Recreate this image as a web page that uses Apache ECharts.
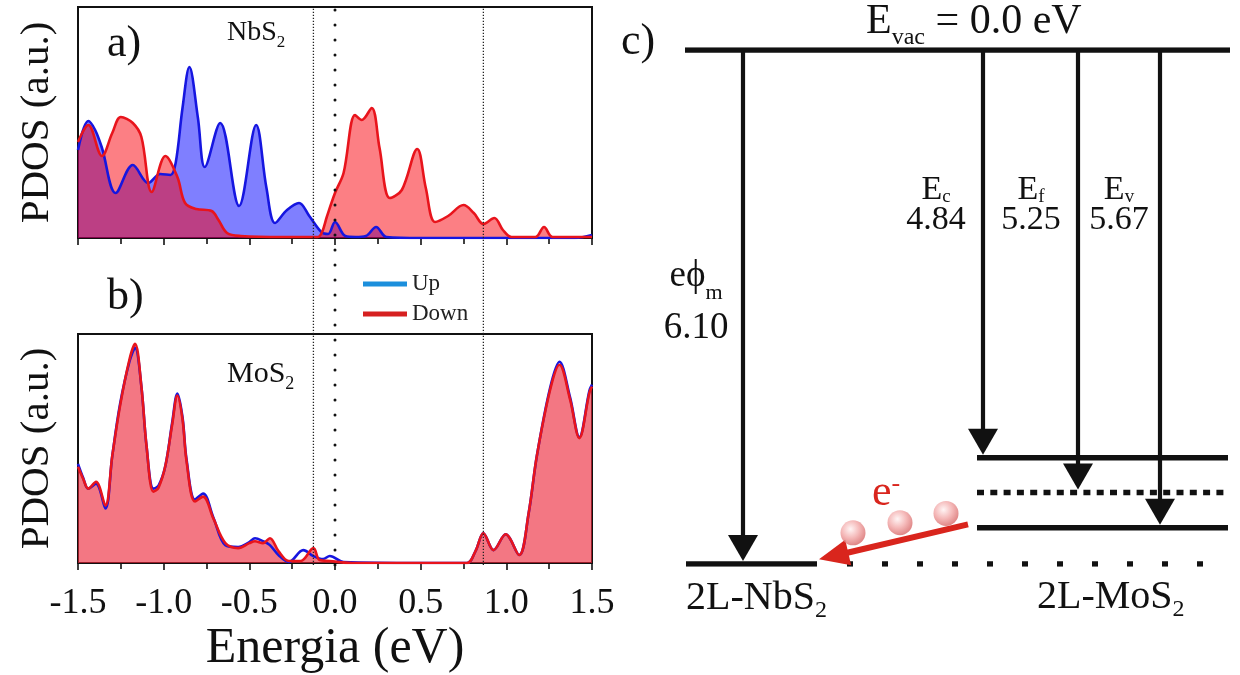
<!DOCTYPE html>
<html><head><meta charset="utf-8">
<script src="https://cdn.jsdelivr.net/npm/echarts@6/dist/echarts.min.js"></script>
<style>html,body{margin:0;padding:0;background:#fff}#c{width:1240px;height:675px}</style>
</head><body><div id="c"></div>
<script>
// ---------------- DATA ----------------
const energyTicks = [-1.5, -1.0, -0.5, 0.0, 0.5, 1.0, 1.5];
const tickLabels  = ['-1.5', '-1.0', '-0.5', '0.0', '0.5', '1.0', '1.5'];
const refLines    = [-0.126, 0.0, 0.866];   // dotted guide energies (eV)

// a) NbS2 spin-up
const aUpE = [-1.50,-1.44,-1.40,-1.36,-1.28,-1.18,-1.09,-1.02,-0.96,-0.93,-0.89,-0.85,-0.80,-0.76,-0.67,-0.56,-0.46,-0.40,-0.35,-0.28,-0.21,-0.15,-0.08,-0.04,0.00,0.06,0.12,0.18,0.24,0.30,0.50,1.00,1.40,1.50];
const aUpV = [88,117,108,90,45,73,55,64,63,75,130,171,120,71,115,32,113,50,15,28,35,22,6,4,16,2,1,2,11,1,0,0,0,3];
// a) NbS2 spin-down
const aDnE = [-1.50,-1.44,-1.36,-1.30,-1.25,-1.18,-1.13,-1.07,-0.99,-0.92,-0.875,-0.81,-0.72,-0.68,-0.63,-0.55,-0.30,-0.10,-0.075,-0.048,0.00,0.05,0.117,0.156,0.214,0.26,0.32,0.39,0.48,0.53,0.584,0.66,0.75,0.81,0.866,0.93,0.98,1.03,1.17,1.22,1.27,1.50];
const aDnV = [96,113,82,105,121,115,101,46,82,61,35,29,27,18,5,2,1,1,6,21,45,65,123,118,130,90,40,48,89,50,16,22,33,25,14,20,8,1,1,11,1,1];
// b) MoS2 spin-up
const bUpE = [-1.50,-1.47,-1.44,-1.395,-1.34,-1.30,-1.255,-1.20,-1.167,-1.13,-1.10,-1.06,-1.03,-0.99,-0.95,-0.92,-0.89,-0.866,-0.817,-0.77,-0.71,-0.64,-0.565,-0.50,-0.467,-0.42,-0.38,-0.33,-0.27,-0.185,-0.126,-0.07,-0.03,0.05,0.50,0.77,0.82,0.866,0.925,0.996,1.075,1.13,1.178,1.256,1.31,1.372,1.426,1.485,1.50];
const bUpV = [100,86,75,80,55,108,160,203,217,178,118,75,78,98,142,171,147,104,64,70,46,18,16,21,25,22,18,8,1,13,7,4,7,1,0,0,12,30,13,29,8,50,108,177,203,167,127,174,180];
// b) MoS2 spin-down
const bDnE = [-1.50,-1.47,-1.44,-1.395,-1.34,-1.30,-1.255,-1.20,-1.167,-1.13,-1.10,-1.06,-1.03,-0.99,-0.95,-0.92,-0.89,-0.866,-0.817,-0.77,-0.71,-0.64,-0.565,-0.50,-0.467,-0.42,-0.38,-0.33,-0.27,-0.20,-0.126,-0.09,-0.03,0.10,0.50,0.77,0.82,0.866,0.925,0.996,1.075,1.13,1.178,1.256,1.31,1.372,1.426,1.485,1.50];
const bDnV = [97,85,75,82,58,108,158,205,221,178,118,72,76,98,140,169,145,102,62,67,45,20,15,20,22,20,25,12,2,2,15,3,2,0,0,0,12,30,13,29,8,50,108,175,200,165,126,172,178];

// c) energy diagram (eV below vacuum)
const vacuumLevel  = 0.0;
const levelNames   = ['eϕm', 'Ec', 'Ef', 'Ev'];
const levelValues  = [6.10, 4.84, 5.25, 5.67];

// ---------------- LAYOUT (not data) ----------------
const FONT = "'Liberation Serif','Times New Roman',serif";
const DX = { vac:[0,545], nb:[1,132], mo:[292,543], moDash:[292,540], nbDash:[162,527],
             arrowX:[58,298,393,475], eArrow:[[283,5.63],[134,6.045]],
             balls:[[168,5.73],[215,5.61],[261,5.50]] };

const pairs = (xs, ys) => xs.map((x, i) => [x, ys[i]]);
const tickFmt = v => { const i = energyTicks.findIndex(t => Math.abs(t - v) < 1e-6); return i >= 0 ? tickLabels[i] : ''; };

const chart = echarts.init(document.getElementById('c'), null, {renderer: 'canvas'});

const axisBase = (grid, showLabels) => ({
  type: 'value', gridIndex: grid, min: -1.5, max: 1.5, interval: 0.5,
  axisLine: {show: true, onZero: false, lineStyle: {color: '#111', width: 2}},
  axisTick: {show: true, inside: false, length: 7, lineStyle: {color: '#111', width: 1.6}},
  minorTick: {show: true, splitNumber: 2, length: 6, lineStyle: {color: '#111', width: 1.6}},
  splitLine: {show: false}, minorSplitLine: {show: false},
  axisLabel: {show: showLabels, formatter: tickFmt, fontFamily: FONT, fontSize: 36, color: '#111', margin: 23}
});
const yBase = (grid, max) => ({
  type: 'value', gridIndex: grid, min: 0, max: max,
  axisLine: {show: true, onZero: false, lineStyle: {color: '#111', width: 2}},
  axisTick: {show: false}, axisLabel: {show: false}, splitLine: {show: false},
  name: 'PDOS (a.u.)', nameLocation: 'middle', nameRotate: 90, nameGap: 20,
  nameTextStyle: {fontFamily: FONT, fontSize: 41, color: '#111'}
});

const BLUE = '#1616e0', RED = '#e8141c';
const series = [];
// panel a
series.push({type: 'line', name: 'Up', xAxisIndex: 0, yAxisIndex: 0, data: pairs(aUpE, aUpV), smooth: 0.35,
  showSymbol: false, lineStyle: {color: BLUE, width: 2.6}, itemStyle: {color: BLUE},
  areaStyle: {color: 'rgba(0,0,255,0.5)', opacity: 1, origin: 'start'}, silent: true});
series.push({type: 'line', name: 'Down', xAxisIndex: 0, yAxisIndex: 0, data: pairs(aDnE, aDnV), smooth: 0.35,
  showSymbol: false, lineStyle: {color: RED, width: 2.6}, itemStyle: {color: RED},
  areaStyle: {color: 'rgba(250,0,10,0.5)', opacity: 1, origin: 'start'}, silent: true});
// panel b
series.push({type: 'line', name: 'Up', xAxisIndex: 1, yAxisIndex: 1, data: pairs(bUpE, bUpV), smooth: 0.35,
  showSymbol: false, lineStyle: {color: BLUE, width: 2.6}, itemStyle: {color: BLUE}, silent: true});
series.push({type: 'line', name: 'Down', xAxisIndex: 1, yAxisIndex: 1, data: pairs(bDnE, bDnV), smooth: 0.35,
  showSymbol: false, lineStyle: {color: RED, width: 2.6}, itemStyle: {color: RED},
  areaStyle: {color: 'rgba(235,35,55,0.62)', opacity: 1, origin: 'start'}, silent: true});
// dotted guide lines
refLines.forEach((e, i) => {
  const bold = Math.abs(e) < 1e-9;
  series.push({type: 'line', xAxisIndex: 2, yAxisIndex: 2, data: [[e, 0], [e, 1]], showSymbol: false, silent: true, z: 5,
    lineStyle: bold ? {color: '#111', width: 3, type: [0.1, 14.9], cap: 'round'}
                    : {color: '#222', width: 1.3, type: [1.3, 1.7]}});
});

// diagram: levels
const lvl = (xr, e, dash) => ({type: 'line', xAxisIndex: 3, yAxisIndex: 3, silent: true, showSymbol: false,
  data: [[xr[0], e], [xr[1], e]], lineStyle: Object.assign({color: '#111', width: 5.5}, dash ? {type: dash, cap: 'butt'} : {})});
series.push(lvl(DX.vac, vacuumLevel));
series.push(lvl(DX.nb, levelValues[0]));
series.push(lvl(DX.nbDash, levelValues[0], [6, 29]));
series.push(lvl(DX.mo, levelValues[1]));
series.push(lvl(DX.moDash, levelValues[2], [7, 6.3]));
series.push(lvl(DX.mo, levelValues[3]));

// arrows (vacuum -> level) + electron transfer arrow
const arrowData = DX.arrowX.map((x, i) => [x, vacuumLevel, x, levelValues[i], 0]);
arrowData.push([DX.eArrow[0][0], DX.eArrow[0][1], DX.eArrow[1][0], DX.eArrow[1][1], 1]);
series.push({
  type: 'custom', xAxisIndex: 3, yAxisIndex: 3, silent: true, z: 6,
  data: arrowData,
  renderItem: function (params, api) {
    const p0 = api.coord([api.value(0), api.value(1)]);
    const p1 = api.coord([api.value(2), api.value(3)]);
    const red = api.value(4) === 1;
    const hl = red ? 30 : 26, hw = red ? 26 : 30, lw = red ? 6 : 4.2;
    const col = red ? '#d9251d' : '#111';
    let dx = p1[0] - p0[0], dy = p1[1] - p0[1];
    const len = Math.sqrt(dx * dx + dy * dy); dx /= len; dy /= len;
    const back = red ? 0 : 3;
    const tip = [p1[0] - dx * back, p1[1] - dy * back];
    const base = [tip[0] - dx * hl, tip[1] - dy * hl];
    const nx = -dy, ny = dx;
    return {type: 'group', children: [
      {type: 'line', shape: {x1: p0[0], y1: p0[1], x2: base[0] + dx * 2, y2: base[1] + dy * 2},
       style: {stroke: col, lineWidth: lw}},
      {type: 'polygon', shape: {points: [[base[0] + nx * hw / 2, base[1] + ny * hw / 2],
                                          [base[0] - nx * hw / 2, base[1] - ny * hw / 2], tip]},
       style: {fill: col}}
    ]};
  }
});
// electrons
series.push({type: 'scatter', xAxisIndex: 3, yAxisIndex: 3, silent: true, z: 7, symbolSize: 25,
  data: DX.balls,
  itemStyle: {color: {type: 'radial', x: 0.4, y: 0.35, r: 0.65,
    colorStops: [{offset: 0, color: '#fff2f2'}, {offset: 0.55, color: '#f2a7a7'}, {offset: 1, color: '#d86a6a'}]}}});

// ---------------- TEXT ----------------
const T = (x, y, rich, text, align) => ({type: 'text', x: x, y: y, silent: true, z: 20,
  style: {text: text, rich: rich, align: align || 'left', verticalAlign: 'middle', fill: '#111'}});
// big size, small size, line height (controls subscript drop), colour, superscript?
const R = (big, small, L, col, sup) => ({
  m: {fontFamily: FONT, fontSize: big, fill: col || '#111', lineHeight: L || big},
  s: {fontFamily: FONT, fontSize: small, fill: col || '#111', verticalAlign: sup ? 'top' : 'bottom', lineHeight: 4}
});
const graphics = [
  T(107, 44, R(44, 20), '{m|a)}'),
  T(107, 297, R(44, 20), '{m|b)}'),
  T(621, 42, R(44, 20), '{m|c)}'),
  T(227, 33, R(28, 17, 37), '{m|NbS}{s|2}'),
  T(227, 374, R(30, 18, 39), '{m|MoS}{s|2}'),
  T(866, 22, R(42, 24, 55), '{m|E}{s|vac}{m| = ' + vacuumLevel.toFixed(1) + ' eV}'),
  T(936, 190, R(34, 19, 34), '{m|E}{s|c}', 'center'),
  T(936, 220, R(34, 19), '{m|' + levelValues[1].toFixed(2) + '}', 'center'),
  T(1031, 190, R(34, 19, 34), '{m|E}{s|f}', 'center'),
  T(1031, 220, R(34, 19), '{m|' + levelValues[2].toFixed(2) + '}', 'center'),
  T(1119, 190, R(34, 19, 34), '{m|E}{s|v}', 'center'),
  T(1119, 220, R(34, 19), '{m|' + levelValues[3].toFixed(2) + '}', 'center'),
  T(696, 276, R(37, 22, 56), '{m|eϕ}{s|m}', 'center'),
  T(696, 328, R(37, 22), '{m|' + levelValues[0].toFixed(2) + '}', 'center'),
  T(686, 598, R(40, 24, 50), '{m|2L-NbS}{s|2}'),
  T(1037, 597, R(40, 24, 50), '{m|2L-MoS}{s|2}'),
  T(872, 493, R(44, 26, 44, '#d9251d', true), '{m|e}{s|-}')
];

chart.setOption({
  animation: false,
  backgroundColor: '#fff',
  grid: [
    {left: 78, top: 7, width: 514, height: 231, show: true, borderColor: '#111', borderWidth: 2, backgroundColor: 'transparent'},
    {left: 78, top: 334, width: 514, height: 231, show: true, borderColor: '#111', borderWidth: 2, backgroundColor: 'transparent'},
    {left: 78, top: 7, width: 514, height: 558, show: false},
    {left: 685, top: 50, width: 545, height: 514, show: false}
  ],
  xAxis: [
    axisBase(0, false),
    Object.assign(axisBase(1, true), {name: 'Energia (eV)', nameLocation: 'middle', nameGap: 61,
      nameTextStyle: {fontFamily: FONT, fontSize: 50, color: '#111'}}),
    {type: 'value', gridIndex: 2, min: -1.5, max: 1.5, show: false},
    {type: 'value', gridIndex: 3, min: DX.vac[0], max: DX.vac[1], show: false}
  ],
  yAxis: [
    yBase(0, 231),
    yBase(1, 231),
    {type: 'value', gridIndex: 2, min: 0, max: 1, show: false},
    {type: 'value', gridIndex: 3, min: 0, max: levelValues[0], inverse: true, show: false}
  ],
  legend: {
    left: 358, top: 267, orient: 'vertical', icon: 'rect', itemWidth: 44, itemHeight: 5, itemGap: 6,
    selectedMode: false,
    textStyle: {fontFamily: FONT, fontSize: 23, color: '#222', lineHeight: 24},
    data: [{name: 'Up', itemStyle: {color: '#1c8fdc'}}, {name: 'Down', itemStyle: {color: '#d62020'}}]
  },
  series: series,
  graphic: graphics
});
</script></body></html>
